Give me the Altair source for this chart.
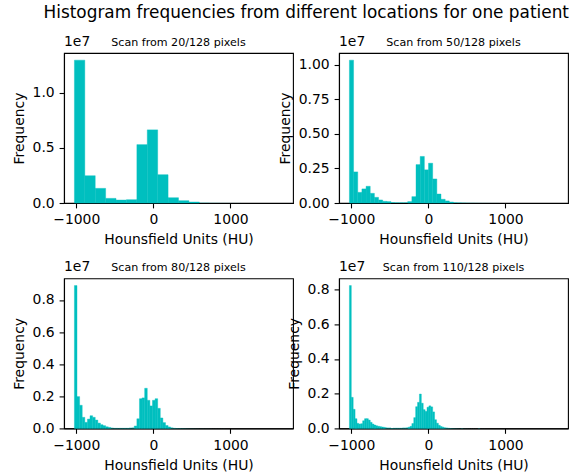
import altair as alt
import numpy as np
import pandas as pd

# ---------------- data ----------------
HU_MIN = -1024
HU_MAX = 1676
SCALE = 1e7

SUPTITLE = "Histogram frequencies from different locations for one patient"
PANEL_TITLES = ["Scan from 20/128 pixels", "Scan from 50/128 pixels",
                "Scan from 80/128 pixels", "Scan from 110/128 pixels"]
X_LABEL = "Hounsfield Units (HU)"
Y_LABEL = "Frequency"
X_TICKS = [-1000, 0, 1000]

# frequencies in units of 1e7, one value per histogram bin
FREQ_20 = [1.297, 0.248, 0.133, 0.042, 0.027, 0.030, 0.530, 0.664, 0.257, 0.048,
           0.021, 0.009, 0.002, 0.001, 0.0005, 0.0003, 0.0002, 0.0001, 0.0001, 0.0001]

FREQ_50 = [1.034, 0.225, 0.077, 0.102, 0.121, 0.070, 0.041, 0.022, 0.012, 0.010,
           0.005, 0.004, 0.004, 0.004, 0.010, 0.046, 0.278, 0.337, 0.240, 0.288,
           0.174, 0.065, 0.027, 0.015, 0.007, 0.004, 0.003, 0.002, 0.0015, 0.001,
           0.0008, 0.0006, 0.0005, 0.0004, 0.0003, 0.0003, 0.0002, 0.0002, 0.0002, 0.0001,
           0.0001, 0.0001, 0.0001, 0.0001, 0.0001, 0.0001, 0.0001, 0.0001, 0.0001, 0.0001]

FREQ_80 = [0.890, 0.198, 0.144, 0.069, 0.0375, 0.058, 0.079, 0.069, 0.052, 0.033,
           0.023, 0.017, 0.010, 0.006, 0.004, 0.003, 0.003, 0.003, 0.003, 0.003,
           0.003, 0.004, 0.005, 0.015, 0.060, 0.185, 0.190, 0.250, 0.175, 0.140,
           0.175, 0.185, 0.125, 0.065, 0.036, 0.018, 0.009, 0.005, 0.003, 0.002,
           0.0018, 0.0015, 0.0012, 0.0010, 0.0008, 0.0007, 0.0006, 0.0005, 0.0004, 0.0004,
           0.0003, 0.0003, 0.0003, 0.0002, 0.0002, 0.0002, 0.0002, 0.0002, 0.0001, 0.0001,
           0.0001, 0.0001, 0.0001, 0.0001, 0.0001, 0.0001, 0.0001, 0.0001, 0.0001, 0.0001,
           0.0001, 0.0001, 0.0001, 0.0001, 0.0001, 0.0001, 0.0001, 0.0001, 0.0001, 0.0001]

FREQ_110 = [0.823, 0.179, 0.110, 0.056, 0.029, 0.025, 0.027, 0.044, 0.056, 0.056,
            0.048, 0.035, 0.025, 0.019, 0.015, 0.012, 0.010, 0.008, 0.006, 0.005,
            0.004, 0.004, 0.003, 0.003, 0.003, 0.003, 0.003, 0.003, 0.004, 0.004,
            0.005, 0.007, 0.012, 0.028, 0.062, 0.125, 0.150, 0.198, 0.145, 0.108,
            0.098, 0.122, 0.130, 0.124, 0.095, 0.050, 0.030, 0.018, 0.011, 0.007,
            0.005, 0.004, 0.003, 0.002, 0.0015, 0.0012, 0.0010, 0.0008, 0.0007, 0.0006,
            0.0005, 0.0004, 0.0004, 0.0003, 0.0003, 0.0003, 0.0002, 0.0002, 0.0002, 0.0002,
            0.0002, 0.0002, 0.0001, 0.0001, 0.0001, 0.0001, 0.0001, 0.0001, 0.0001, 0.0001,
            0.0001, 0.0001, 0.0001, 0.0001, 0.0001, 0.0001, 0.0001, 0.0001, 0.0001, 0.0001,
            0.0001, 0.0001, 0.0001, 0.0001, 0.0001, 0.0001, 0.0001, 0.0001, 0.0001, 0.0001,
            0.0001, 0.0001, 0.0001, 0.0001, 0.0001, 0.0001, 0.0001, 0.0001, 0.0001, 0.0001]

Y_TICKS = [[0.0, 0.5, 1.0],
           [0.0, 0.25, 0.5, 0.75, 1.0],
           [0.0, 0.2, 0.4, 0.6, 0.8],
           [0.0, 0.2, 0.4, 0.6, 0.8]]
Y_FORMATS = [".1f", ".2f", ".1f", ".1f"]

# ---------------- style ----------------
W, H = 229, 150
TEAL = "#00bfbf"
FONT = "DejaVu Sans"
MARGIN = 0.05 * (HU_MAX - HU_MIN)


def panel(title, freqs, yticks, yfmt):
    n = len(freqs)
    edges = np.linspace(HU_MIN, HU_MAX, n + 1)
    df = pd.DataFrame({"lo": edges[:-1], "hi": edges[1:],
                       "freq": np.array(freqs) * SCALE})
    ymax = 1.05 * float(df["freq"].max())
    bars = alt.Chart(df).mark_rect(color=TEAL, stroke=TEAL).encode(
        x=alt.X("lo:Q",
                scale=alt.Scale(domain=[HU_MIN - MARGIN, HU_MAX + MARGIN], nice=False, zero=False),
                axis=alt.Axis(values=X_TICKS, format="d", title=X_LABEL)),
        x2="hi:Q",
        y=alt.Y("freq:Q",
                scale=alt.Scale(domain=[0, ymax], nice=False),
                axis=alt.Axis(values=[t * SCALE for t in yticks],
                              labelExpr=f"format(datum.value / 10000000, '{yfmt}')",
                              title=Y_LABEL)),
        y2=alt.datum(0),
        strokeWidth=alt.condition(alt.datum.freq > 50000, alt.value(0.4), alt.value(0)),
    )
    offset_txt = alt.Chart(pd.DataFrame({"t": ["1e7"]})).mark_text(
        align="left", baseline="alphabetic", fontSize=13.9, font=FONT, color="black"
    ).encode(text="t:N", x=alt.value(0), y=alt.value(-7.5))
    title_txt = alt.Chart(pd.DataFrame({"t": [title]})).mark_text(
        align="center", baseline="alphabetic", fontSize=11.1, font=FONT, color="black"
    ).encode(text="t:N", x=alt.value(W / 2), y=alt.value(-7.5))
    return alt.layer(bars, offset_txt, title_txt).properties(width=W, height=H)


panels = [panel(t, f, yt, yf) for t, f, yt, yf in
          zip(PANEL_TITLES, [FREQ_20, FREQ_50, FREQ_80, FREQ_110], Y_TICKS, Y_FORMATS)]

chart = alt.concat(
    *panels, columns=2, spacing={"row": 75.4, "column": 46}, bounds="flush",
    title=alt.Title(SUPTITLE, fontSize=16.9, font=FONT, fontWeight="normal",
                    anchor="middle", dx=16, offset=-1, baseline="alphabetic", color="black"),
).properties(
    padding={"left": 11, "top": 4, "right": 4, "bottom": 2}
).configure_view(
    stroke="black", strokeWidth=1.1
).configure_axis(
    domainColor="black", domainWidth=1.1, tickColor="black", tickWidth=1.1,
    tickSize=4.9, labelPadding=4.9, labelFont=FONT, labelFontSize=13.9,
    labelColor="black", titleFont=FONT, titleFontSize=13.9, titleFontWeight="normal",
    titleColor="black", titlePadding=5.6, grid=False, labelFlush=False,
    labelOverlap=False, labelBound=False, zindex=1
).configure_axisX(titlePadding=6)

chart.save("out.html", embed_options={"renderer": "svg", "actions": False})
